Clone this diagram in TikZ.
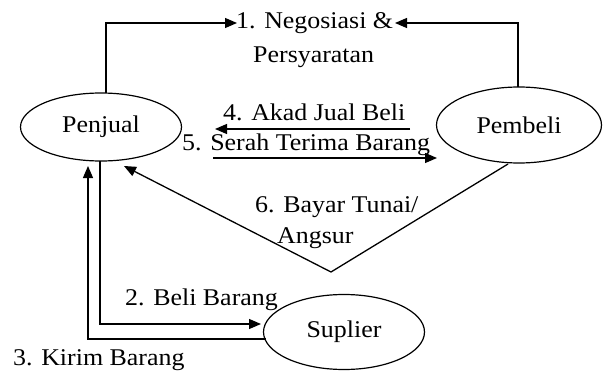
\documentclass[tikz,border=0pt]{standalone}
\usepackage{fontspec}
\setmainfont{Liberation Serif}[FakeStretch=1.08]
\usetikzlibrary{shapes.geometric,arrows.meta}
\begin{document}
\begin{tikzpicture}[x=1pt,y=-1pt,
  every node/.style={font=\fontsize{24}{28}\selectfont},
  ent/.style={draw,ellipse,line width=1.2pt,inner sep=0pt},
  lbl/.style={anchor=base west,inner sep=0pt},
  conn/.style={line width=1.3pt},
  arr/.style={conn,-{Triangle[length=12pt,width=10pt]}}]
\useasboundingbox (0,0) rectangle (603,372);
% entities
\node[ent,minimum width=161pt,minimum height=68pt] (penjual) at (101,127) {Penjual};
\node[ent,minimum width=165pt,minimum height=76pt] (pembeli) at (519,125) {Pembeli};
\node[ent,minimum width=161pt,minimum height=75pt] (suplier) at (344,332) {Suplier};
% labels
\node[lbl] (l1) at (236,28) {1. Negosiasi \&};
\node[lbl] (l1b) at (253,62) {Persyaratan};
\node[lbl] (l4) at (223,120) {4. Akad Jual Beli};
\node[lbl] (l5) at (182,150) {5. Serah Terima Barang};
\node[lbl] (l6) at (255,212) {6. Bayar Tunai/};
\node[lbl] (l6b) at (277,243) {Angsur};
\node[lbl] (l2) at (125,305) {2. Beli Barang};
\node[lbl] (l3) at (13,365) {3. Kirim Barang};
% helper coordinates
\coordinate (t1a) at (237,23);
\coordinate (t1b) at (395,23);
\coordinate (pj1) at (106,93);
\coordinate (pb1) at (518,87);
\coordinate (a4s) at (410,129);
\coordinate (a4e) at (215,129);
\coordinate (a5s) at (213,158);
\coordinate (a5e) at (437,158);
\coordinate (p6s) at (508,164);
\coordinate (p6v) at (331,272);
\coordinate (p6e) at (124,166);
\coordinate (p2s) at (100,161);
\coordinate (p2e) at (261,324);
\coordinate (p3s) at (266,339);
\coordinate (p3e) at (88,166);
% connectors
\draw[arr] (pj1) |- (t1a);
\draw[arr] (pb1) |- (t1b);
\draw[arr] (a4s) -- (a4e);
\draw[arr] (a5s) -- (a5e);
\draw[arr] (p6s) -- (p6v) -- (p6e);
\draw[arr] (p2s) |- (p2e);
\draw[arr] (p3s) -| (p3e);
\end{tikzpicture}
\end{document}
